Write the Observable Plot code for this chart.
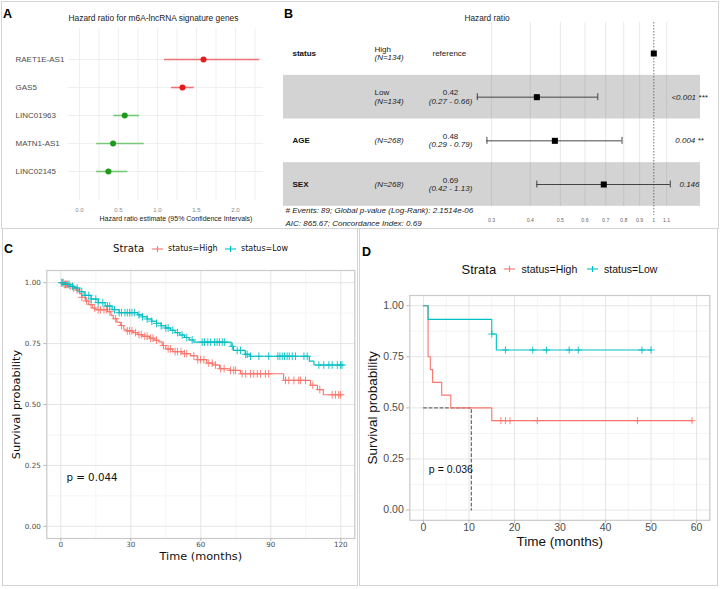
<!DOCTYPE html>
<html>
<head>
<meta charset="utf-8">
<script src="https://cdn.jsdelivr.net/npm/d3@7"></script>
<script src="https://cdn.jsdelivr.net/npm/@observablehq/plot@0.6"></script>
<style>
html,body{margin:0;padding:0;background:#fff;}
#fig{position:relative;width:720px;height:589px;overflow:hidden;background:#fff;}
.box{position:absolute;border:1px solid #d4d4d4;box-sizing:border-box;}
.panel{position:absolute;}
.panel svg{display:block;overflow:visible;}
.t{position:absolute;white-space:nowrap;line-height:1;transform:translateY(-50%);}
</style>
</head>
<body>
<div id="fig">
  <div class="box" style="left:1px;top:1px;width:718px;height:228px;"></div>
  <div class="box" style="left:2px;top:228px;width:356px;height:358px;"></div>
  <div class="box" style="left:359px;top:228px;width:359px;height:358px;"></div>
  <div class="panel" id="pA" style="left:0;top:0;width:272px;height:228px;"></div>
  <div class="panel" id="pB" style="left:272px;top:0;width:448px;height:228px;"></div>
  <div class="panel" id="pC" style="left:0;top:228px;width:359px;height:361px;"></div>
  <div class="panel" id="pD" style="left:359px;top:228px;width:361px;height:361px;"></div>
</div>
<script>
// ================= DATA =================
// Panel A: univariate hazard ratios of signature genes
const genes   = ["RAET1E-AS1", "GAS5", "LINC01963", "MATN1-AS1", "LINC02145"];
const geneHR  = [1.59, 1.32, 0.58, 0.43, 0.37];
const geneLo  = [1.09, 1.18, 0.44, 0.22, 0.22];
const geneHi  = [2.31, 1.47, 0.77, 0.83, 0.62];
const geneDir = ["up", "up", "down", "down", "down"];
const aTicks  = [0, 0.5, 1, 1.5, 2];
const aGrid   = [0, 0.25, 0.5, 0.75, 1, 1.25, 1.5, 1.75, 2, 2.25];
const aTitle  = "Hazard ratio for m6A-lncRNA signature genes";
const aXLabel = "Hazard ratio estimate (95% Confidence Intervals)";

// Panel B: multivariate Cox forest
const bVars   = ["status", "", "AGE", "SEX"];
const bLevels = ["High", "Low", "", ""];
const bN      = ["(N=134)", "(N=134)", "(N=268)", "(N=268)"];
const bHR     = [1, 0.42, 0.48, 0.69];
const bLo     = [null, 0.27, 0.29, 0.42];
const bHi     = [null, 0.66, 0.79, 1.13];
const bEst    = ["reference", "0.42", "0.48", "0.69"];
const bCI     = ["", "(0.27 - 0.66)", "(0.29 - 0.79)", "(0.42 - 1.13)"];
const bP      = ["", "<0.001 ***", "0.004 **", "0.146"];
const bTicks  = [0.3, 0.4, 0.5, 0.6, 0.7, 0.8, 0.9, 1, 1.1];
const bNote1  = "# Events: 89; Global p-value (Log-Rank): 2.1514e-06";
const bNote2  = "AIC: 865.67; Concordance Index: 0.69";

// Panel C: Kaplan-Meier, 120 months
const cHighT = [0, 1.5, 3, 5, 6.5, 8, 9, 10.5, 12, 13.5, 15, 20, 21.5, 22.5, 24, 25.5, 27, 28, 31, 33, 35, 38, 40, 42, 43.5, 45, 48, 52, 55.5, 58.5, 62.5, 65, 68, 72.5, 77, 95.5, 107, 110, 112.5, 120];
const cHighS = [1, 0.993, 0.985, 0.978, 0.970, 0.955, 0.940, 0.925, 0.910, 0.896, 0.889, 0.881, 0.866, 0.852, 0.838, 0.824, 0.809, 0.802, 0.795, 0.787, 0.780, 0.772, 0.764, 0.757, 0.742, 0.728, 0.717, 0.709, 0.700, 0.684, 0.670, 0.662, 0.647, 0.640, 0.626, 0.599, 0.579, 0.561, 0.540, 0.540];
const cHighCens = [0.5, 1.5, 2.5, 4, 5.5, 7, 9, 11, 13, 14.5, 16, 17, 18.5, 19.5, 21, 23.5, 26, 28.5, 29.5, 30.5, 32, 33.5, 34.5, 36, 37, 38.5, 39.5, 41, 44, 46, 47, 49, 50, 51.5, 53, 54, 57, 58.7, 59.9, 61.3, 63.4, 64.9, 66.3, 68.5, 70, 72.7, 74.1, 74.9, 77.7, 79.2, 81.3, 82.7, 84.2, 85.6, 87.7, 89.1, 96.3, 97.7, 99.9, 102, 102.7, 104.9, 108, 111, 116.3, 117.7, 119.1, 119.9];
const cLowT = [0, 2, 4, 6, 8, 10, 13, 16, 19, 22, 25, 33, 35, 37, 39, 41, 43, 45, 47, 49, 51, 53, 55, 57, 73, 74, 79, 81, 106.5, 108.5, 120.5];
const cLowS = [1, 0.993, 0.985, 0.978, 0.963, 0.948, 0.933, 0.918, 0.904, 0.889, 0.877, 0.868, 0.860, 0.851, 0.842, 0.833, 0.823, 0.814, 0.805, 0.795, 0.785, 0.775, 0.765, 0.756, 0.739, 0.722, 0.706, 0.698, 0.678, 0.662, 0.662];
const cLowCens = [0.5, 1, 2, 3, 3.5, 5, 7, 9, 10.5, 12, 13, 15, 16, 18, 20, 21, 23, 25, 26, 27.5, 28.5, 29.5, 30.5, 31.5, 33.5, 35, 37, 39, 41, 43, 45, 46, 48, 50, 52, 54, 56.3, 60.6, 61.6, 63, 64.2, 65.9, 67, 68, 69.2, 70.2, 73.5, 75.6, 77, 79.2, 79.9, 81.3, 84.9, 89.1, 93, 93.9, 94.9, 95.9, 97, 97.9, 99.2, 100.6, 104.2, 105.6, 110.6, 112.7, 114.9, 116.3, 118.5, 119.9, 120.5];
const cXTicks = [0, 30, 60, 90, 120];
const cXMinor = [15, 45, 75, 105];
const cPval = "p = 0.044";

// Panel D: Kaplan-Meier, 60 months
const dHighT = [0, 1, 1.5, 2, 4, 6, 15, 59];
const dHighS = [1, 0.75, 0.6875, 0.625, 0.5625, 0.5, 0.4375, 0.4375];
const dHighCens = [17, 18, 19, 25, 47, 59];
const dLowT = [0, 1, 15, 16, 50];
const dLowS = [1, 0.9333, 0.8615, 0.7832, 0.7832];
const dLowCens = [15, 18, 24, 27, 32, 34, 48, 50];
const dMedian = 10.5;
const dXTicks = [0, 10, 20, 30, 40, 50, 60];
const dXMinor = [5, 15, 25, 35, 45, 55];
const dPval = "p = 0.036";

const yTicks = [0, 0.25, 0.5, 0.75, 1];
const yMinor = [0.125, 0.375, 0.625, 0.875];
const strata = ["status=High", "status=Low"];
const strataCol = ["#F8766D", "#00BFC4"];

// ================= HELPERS =================
const ARIAL = "'Liberation Sans', Arial, Helvetica, sans-serif";
const DEJAVU = "'DejaVu Sans', Verdana, sans-serif";
function put(parent, text, x, y, style) {
  const d = document.createElement("div");
  d.className = "t";
  d.textContent = text;
  d.style.left = x + "px";
  d.style.top = y + "px";
  Object.assign(d.style, style || {});
  parent.appendChild(d);
  return d;
}
function glyph(parent, x, y, w, color) {
  const s = d3.create("svg").attr("width", w).attr("height", 10)
    .style("position", "absolute").style("left", x + "px").style("top", (y - 5) + "px");
  s.append("line").attr("x1", 0).attr("x2", w).attr("y1", 5).attr("y2", 5).attr("stroke", color).attr("stroke-width", 1.1);
  s.append("line").attr("x1", w / 2).attr("x2", w / 2).attr("y1", 2).attr("y2", 8).attr("stroke", color).attr("stroke-width", 1.1);
  parent.appendChild(s.node());
}
function stepAt(T, S, t) {
  let v = S[0];
  for (let i = 0; i < T.length; i++) if (T[i] <= t) v = S[i];
  return v;
}
const fig = document.getElementById("fig");

// ================= PANEL A =================
const aRows = genes.map((g, i) => ({gene: g, hr: geneHR[i], lo: geneLo[i], hi: geneHi[i], dir: geneDir[i]}));
const aDot = {up: "#e41a1c", down: "#1f9a1f"};
const aLine = {up: "#f07474", down: "#79c879"};
const plotA = Plot.plot({
  width: 272, height: 228,
  marginLeft: 68, marginRight: 9, marginTop: 28, marginBottom: 28,
  x: {domain: [0, 2], range: [79, 235], axis: null},
  y: {type: "point", domain: genes, range: [44, 185], axis: null},
  style: {fontFamily: ARIAL, background: "transparent", overflow: "visible"},
  marks: [
    Plot.ruleX(aGrid, {x: d => d, stroke: "#ebebeb", strokeWidth: 0.8}),
    Plot.ruleY(genes, {y: d => d, stroke: "#ebebeb", strokeWidth: 0.8}),
    Plot.ruleY(aRows, {y: "gene", x1: "lo", x2: "hi", stroke: d => aLine[d.dir], strokeWidth: 1.6}),
    Plot.dot(aRows, {x: "hr", y: "gene", r: 3, fill: d => aDot[d.dir], stroke: null}),
    Plot.text(genes, {y: d => d, text: d => d, frameAnchor: "left", dx: -53, textAnchor: "start", fontSize: 8, fill: "#4d4d4d"}),
    Plot.text(aTicks, {x: d => d, text: d => d.toFixed(1), frameAnchor: "bottom", dy: 11, fontSize: 6, fill: "#8a8a8a"}),
    Plot.text([aXLabel], {text: d => d, frameAnchor: "bottom", dx: 10, dy: 20, fontSize: 7, fill: "#222"}),
    Plot.text([aTitle], {text: d => d, frameAnchor: "top-left", textAnchor: "start", dy: -13, fontSize: 8.4, fill: "#222"})
  ]
});
document.getElementById("pA").appendChild(plotA);
put(fig, "A", 3, 14, {fontFamily: ARIAL, fontWeight: "bold", fontSize: "12.5px"});

// ================= PANEL B =================
const bRows = bVars.map((v, i) => ({i, v, level: bLevels[i], n: bN[i], hr: bHR[i], lo: bLo[i], hi: bHi[i], est: bEst[i], ci: bCI[i], p: bP[i]}));
const bCIrows = bRows.filter(d => d.lo != null);
const plotB = Plot.plot({
  width: 448, height: 228,
  marginLeft: 11, marginRight: 20, marginTop: 22, marginBottom: 22,
  x: {type: "log", domain: [0.3, 1], range: [219, 381.3], axis: null},
  y: {domain: [0, 3], range: [53, 184], axis: null},
  style: {fontFamily: ARIAL, background: "transparent", overflow: "visible"},
  marks: [
    Plot.rect(bRows.filter(d => d.i % 2 === 1), {y1: d => d.i - 0.5, y2: d => d.i + 0.5, fill: "#d3d3d3"}),
    Plot.ruleX(bTicks.filter(t => t !== 1), {x: d => d, stroke: "#808080", strokeOpacity: 0.22, strokeWidth: 0.8}),
    Plot.ruleX([1], {x: d => d, stroke: "#555", strokeWidth: 0.8, strokeDasharray: "1.5,1.5", insetBottom: -9}),
    Plot.ruleY(bCIrows, {y: "i", x1: "lo", x2: "hi", stroke: "#333", strokeWidth: 0.9}),
    Plot.ruleX(bCIrows, {x: "lo", y1: d => d.i - 0.08, y2: d => d.i + 0.08, stroke: "#333", strokeWidth: 0.9}),
    Plot.ruleX(bCIrows, {x: "hi", y1: d => d.i - 0.08, y2: d => d.i + 0.08, stroke: "#333", strokeWidth: 0.9}),
    Plot.dot(bRows, {x: "hr", y: "i", symbol: "square", r: 3.4, fill: "#000", stroke: null}),
    Plot.text(bRows, {y: "i", text: "v", frameAnchor: "left", dx: 9, textAnchor: "start", fontWeight: "bold", fontSize: 8, fill: "#111"}),
    Plot.text(bRows.filter(d => d.level), {y: "i", text: "level", frameAnchor: "left", dx: 91, dy: -4.5, textAnchor: "start", fontSize: 8, fill: "#222"}),
    Plot.text(bRows.filter(d => d.level), {y: "i", text: "n", frameAnchor: "left", dx: 91, dy: 4, textAnchor: "start", fontStyle: "italic", fontSize: 8, fill: "#222"}),
    Plot.text(bRows.filter(d => !d.level), {y: "i", text: "n", frameAnchor: "left", dx: 91, dy: 0, textAnchor: "start", fontStyle: "italic", fontSize: 8, fill: "#222"}),
    Plot.text(bRows.filter(d => d.ci), {y: "i", text: "est", frameAnchor: "left", dx: 167, dy: -4.5, textAnchor: "middle", fontSize: 8, fill: "#222"}),
    Plot.text(bRows.filter(d => d.ci), {y: "i", text: "ci", frameAnchor: "left", dx: 167, dy: 4, textAnchor: "middle", fontStyle: "italic", fontSize: 8, fill: "#222"}),
    Plot.text(bRows.filter(d => !d.ci), {y: "i", text: "est", frameAnchor: "left", dx: 149, textAnchor: "start", fontSize: 8, fill: "#222"}),
    Plot.text(bRows.filter(d => d.p), {y: "i", text: "p", frameAnchor: "left", dx: 406, textAnchor: "middle", fontStyle: "italic", fontSize: 8, fill: "#222"}),
    Plot.text(bTicks, {x: d => d, text: d => String(d), frameAnchor: "bottom", dy: 15, fontSize: 5.2, fill: "#666"}),
    Plot.text([bNote1], {text: d => d, frameAnchor: "bottom-left", dx: 2, dy: 6.5, textAnchor: "start", fontStyle: "italic", fontSize: 8, fill: "#222"}),
    Plot.text([bNote2], {text: d => d, frameAnchor: "bottom-left", dx: 2, dy: 19.5, textAnchor: "start", fontStyle: "italic", fontSize: 8, fill: "#222"}),
    Plot.text(["Hazard ratio"], {text: d => d, frameAnchor: "top", dx: -5, dy: -7, fontSize: 8.3, fill: "#222"})
  ]
});
document.getElementById("pB").appendChild(plotB);
put(fig, "B", 284, 14, {fontFamily: ARIAL, fontWeight: "bold", fontSize: "12.5px"});

// ================= KM builder =================
function kmPlot(o) {
  const hi = o.hiT.map((t, i) => ({t, s: o.hiS[i]}));
  const lo = o.loT.map((t, i) => ({t, s: o.loS[i]}));
  const hiC = o.hiC.map(t => ({t, s: stepAt(o.hiT, o.hiS, t)}));
  const loC = o.loC.map(t => ({t, s: stepAt(o.loT, o.loS, t)}));
  const x0 = o.xdom[0], y0 = -0.05;
  const marks = [
    Plot.ruleX(o.xMinor, {x: d => d, stroke: "#efefef", strokeWidth: 0.6}),
    Plot.ruleY(yMinor, {y: d => d, stroke: "#efefef", strokeWidth: 0.6}),
    Plot.ruleX(o.xTicks, {x: d => d, stroke: "#e2e2e2", strokeWidth: 0.9}),
    Plot.ruleY(yTicks, {y: d => d, stroke: "#e2e2e2", strokeWidth: 0.9}),
    Plot.frame({stroke: "#c9c9c9", strokeWidth: 1.2}),
    Plot.ruleX(o.xTicks, {x: d => d, y1: y0, y2: y0, insetBottom: -3, stroke: "#b0b0b0", strokeWidth: 0.9}),
    Plot.ruleY(yTicks, {y: d => d, x1: x0, x2: x0, insetLeft: -3, stroke: "#b0b0b0", strokeWidth: 0.9}),
    Plot.text(o.xTicks, {x: d => d, text: d => String(d), frameAnchor: "bottom", dy: o.xLabDy, fontSize: o.tickSize, fill: "#4d4d4d"}),
    Plot.text(yTicks, {y: d => d, text: d => d.toFixed(2), frameAnchor: "left", dx: o.yLabDx, textAnchor: "end", fontSize: o.tickSize, fill: "#4d4d4d"}),
    Plot.text(["Time (months)"], {text: d => d, frameAnchor: "bottom", dy: o.xTitleDy, fontSize: o.titleSize, fill: "#111"}),
    Plot.text(["Survival probability"], {text: d => d, frameAnchor: "left", dx: o.yTitleDx, rotate: -90, textAnchor: "middle", fontSize: o.titleSize, fill: "#111"})
  ];
  if (o.median != null) {
    const med = [{t: 0, s: 0.5}, {t: o.median, s: 0.5}, {t: o.median, s: 0}];
    marks.push(Plot.line(med, {x: "t", y: "s", stroke: "#333", strokeWidth: 0.9, strokeDasharray: "3,2.5"}));
  }
  marks.push(
    Plot.line(hi, {x: "t", y: "s", curve: "step-after", stroke: strataCol[0], strokeWidth: 1.1}),
    Plot.dot(hiC, {x: "t", y: "s", symbol: "plus", r: o.censR, stroke: strataCol[0], strokeWidth: 0.9}),
    Plot.line(lo, {x: "t", y: "s", curve: "step-after", stroke: strataCol[1], strokeWidth: 1.1}),
    Plot.dot(loC, {x: "t", y: "s", symbol: "plus", r: o.censR, stroke: strataCol[1], strokeWidth: 0.9}),
    Plot.text([o.pval], {x: () => o.pX, y: () => 0.2, text: d => d, textAnchor: "start", fontSize: o.pSize, fill: "#111"})
  );
  return Plot.plot({
    width: o.width, height: o.height,
    marginLeft: o.mL, marginRight: o.mR, marginTop: o.mT, marginBottom: o.mB,
    x: {domain: o.xdom, axis: null},
    y: {domain: [-0.05, 1.05], axis: null},
    style: {fontFamily: o.font, background: "transparent", overflow: "visible"},
    marks
  });
}

// ================= PANEL C =================
const plotC = kmPlot({
  width: 359, height: 361, mL: 46.3, mR: 4.7, mT: 42, mB: 51,
  xdom: [-6, 126], xTicks: cXTicks, xMinor: cXMinor,
  hiT: cHighT, hiS: cHighS, hiC: cHighCens, loT: cLowT, loS: cLowS, loC: cLowCens,
  median: null, pval: cPval, pX: 120 / 50, pSize: 10.3,
  font: DEJAVU, tickSize: 7.2, titleSize: 11.3,
  xLabDy: 8, yLabDx: -6, xTitleDy: 21, yTitleDx: -30, censR: 2.6
});
document.getElementById("pC").appendChild(plotC);
put(fig, "C", 4, 249, {fontFamily: ARIAL, fontWeight: "bold", fontSize: "12.5px"});
put(fig, "Strata", 113, 249, {fontFamily: DEJAVU, fontSize: "10.2px", color: "#111"});
glyph(fig, 151.5, 249, 11, strataCol[0]);
put(fig, strata[0], 168, 249, {fontFamily: DEJAVU, fontSize: "8px", color: "#111"});
glyph(fig, 224.5, 249, 11, strataCol[1]);
put(fig, strata[1], 241, 249, {fontFamily: DEJAVU, fontSize: "8px", color: "#111"});

// ================= PANEL D =================
const plotD = kmPlot({
  width: 361, height: 361, mL: 50.3, mR: 10.7, mT: 67, mB: 69.2,
  xdom: [-3.01, 62.9], xTicks: dXTicks, xMinor: dXMinor,
  hiT: dHighT, hiS: dHighS, hiC: dHighCens, loT: dLowT, loS: dLowS, loC: dLowCens,
  median: dMedian, pval: dPval, pX: 59 / 50, pSize: 10.5,
  font: ARIAL, tickSize: 10.5, titleSize: 13.5,
  xLabDy: 11, yLabDx: -6, xTitleDy: 26, yTitleDx: -37, censR: 2.4
});
document.getElementById("pD").appendChild(plotD);
put(fig, "D", 362, 252, {fontFamily: ARIAL, fontWeight: "bold", fontSize: "12.5px"});
put(fig, "Strata", 461.5, 269, {fontFamily: ARIAL, fontSize: "13px", color: "#111"});
glyph(fig, 503.5, 269, 11, strataCol[0]);
put(fig, strata[0], 521.5, 269, {fontFamily: ARIAL, fontSize: "10.5px", color: "#111"});
glyph(fig, 586.5, 269, 11, strataCol[1]);
put(fig, strata[1], 604, 269, {fontFamily: ARIAL, fontSize: "10.5px", color: "#111"});
</script>
</body>
</html>
